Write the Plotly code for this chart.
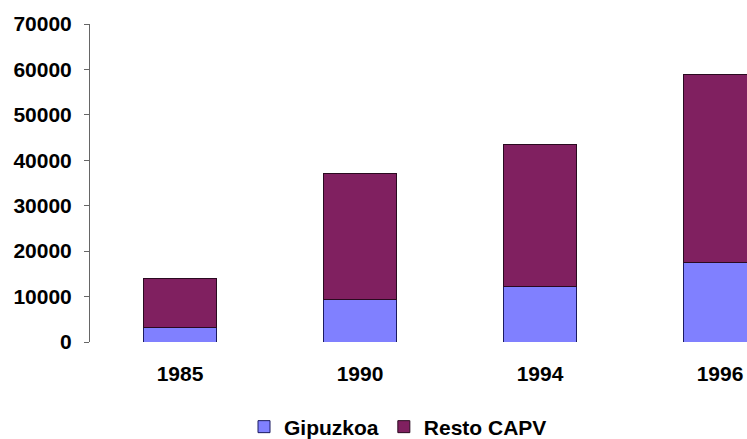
import plotly.graph_objects as go

years = ["1985", "1990", "1994", "1996"]
gipuzkoa = [3300, 9400, 12300, 17600]
resto_capv = [10700, 27600, 31100, 41200]
y_ticks = [0, 10000, 20000, 30000, 40000, 50000, 60000, 70000]

font_family = "Liberation Sans, Arial, sans-serif"
bold21 = dict(family=font_family, size=21, color="black", weight="bold")

fig = go.Figure()
fig.add_trace(go.Bar(
    x=years, y=gipuzkoa, name="Gipuzkoa",
    marker=dict(color="#8080FF", line=dict(color="#1a1a60", width=1)),
    width=0.405,
))
fig.add_trace(go.Bar(
    x=years, y=resto_capv, name="Resto CAPV",
    marker=dict(color="#802060", line=dict(color="#2a0a20", width=1)),
    width=0.405,
))

fig.update_layout(
    barmode="stack",
    width=747, height=439,
    margin=dict(l=90, r=0, t=24, b=97, autoexpand=False),
    plot_bgcolor="white", paper_bgcolor="white",
    font=bold21,
    showlegend=True,
    legend=dict(
        orientation="h", xref="container", x=398 / 747, xanchor="center",
        yref="container", y=1 - 427 / 439, yanchor="middle",
        font=bold21, itemwidth=30, traceorder="normal",
    ),
    xaxis=dict(
        type="category", range=[-0.5, 3.15],
        showline=False, showgrid=False, ticks="",
        tickfont=bold21, ticklabelstandoff=17,
    ),
    yaxis=dict(
        range=[0, 70000], tickvals=y_ticks, ticktext=[str(v) for v in y_ticks],
        showline=True, linecolor="#666666", linewidth=1,
        ticks="outside", ticklen=5, tickcolor="#666666",
        showgrid=False, zeroline=False,
        tickfont=bold21, ticklabelstandoff=8,
    ),
)

fig.write_html(
    "out.html",
    config={"displayModeBar": False},
    post_script="document.body.style.margin='0';document.body.style.overflow='hidden';",
)
